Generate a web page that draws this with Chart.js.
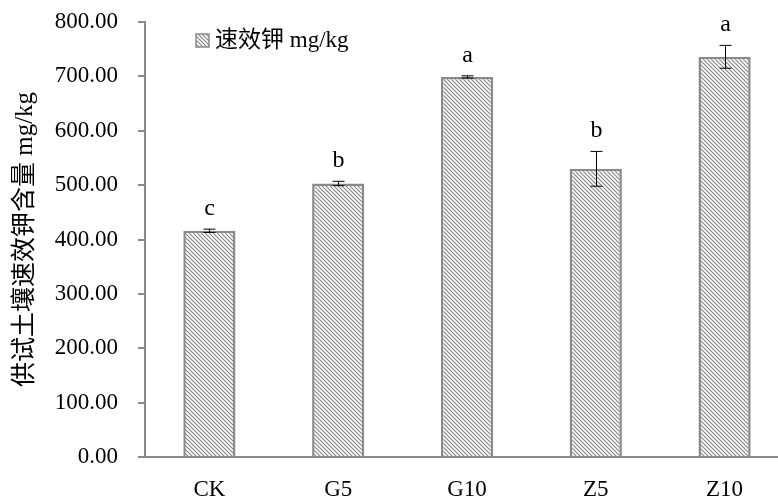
<!DOCTYPE html>
<html>
<head>
<meta charset="utf-8">
<script src="https://cdn.jsdelivr.net/npm/chart.js@4"></script>
<style>
  body { margin: 0; overflow: hidden; background: #fff; }
</style>
</head>
<body>
<canvas id="kChart" width="790" height="497"></canvas>
<script>
// Chart data
var categories = ['CK', 'G5', 'G10', 'Z5', 'Z10'];
var potassium = [416, 503, 699, 530, 736];
var errors = [3, 4, 2, 32, 21];
var letters = ['c', 'b', 'a', 'b', 'a'];
var yTicks = [0, 100, 200, 300, 400, 500, 600, 700, 800];

var serif = "'Liberation Serif', 'Times New Roman', 'Noto Sans CJK SC', serif";

// diagonal hatch fill
function makeHatch() {
    var size = 4;
    var c = document.createElement('canvas');
    c.width = size; c.height = size;
    var g = c.getContext('2d');
    g.fillStyle = '#fff';
    g.fillRect(0, 0, size, size);
    g.strokeStyle = '#858585';
    g.lineWidth = 1.1;
    g.beginPath();
    g.moveTo(-1, -1); g.lineTo(size + 1, size + 1);
    g.moveTo(-1, size - 1); g.lineTo(1, size + 1);
    g.moveTo(size - 1, -1); g.lineTo(size + 1, 1);
    g.stroke();
    return g.createPattern(c, 'repeat');
}

var hatch = makeHatch();

// error bars, letters and legend
var extras = {
    id: 'extras',
    afterDatasetsDraw: function(chart) {
        var ctx = chart.ctx;
        var x = chart.scales.x, y = chart.scales.y;
        ctx.save();
        ctx.strokeStyle = '#000';
        ctx.lineWidth = 1;
        ctx.fillStyle = '#000';
        ctx.font = '24px ' + serif;
        ctx.textAlign = 'center';
        ctx.textBaseline = 'alphabetic';
        potassium.forEach(function(v, i) {
            var cx = Math.round(x.getPixelForValue(i)) + 0.5;
            var top = y.getPixelForValue(v + errors[i]);
            var bot = y.getPixelForValue(v - errors[i]);
            ctx.beginPath();
            ctx.moveTo(cx, top); ctx.lineTo(cx, bot);
            ctx.moveTo(cx - 6, top); ctx.lineTo(cx + 6, top);
            ctx.moveTo(cx - 6, bot); ctx.lineTo(cx + 6, bot);
            ctx.stroke();
            ctx.fillText(letters[i], cx, top - 14);
        });
        // legend
        var lx = 196, ly = 34;
        ctx.fillStyle = hatch;
        ctx.fillRect(lx, ly, 13, 13);
        ctx.strokeStyle = '#8a8a8a';
        ctx.lineWidth = 1.5;
        ctx.strokeRect(lx, ly, 13, 13);
        ctx.fillStyle = '#000';
        ctx.textAlign = 'left';
        ctx.textBaseline = 'middle';
        ctx.font = '23px ' + serif;
        ctx.fillText('速效钾 mg/kg', lx + 19, ly + 7);
        ctx.restore();
    }
};

var ctx = document.getElementById('kChart').getContext('2d');
var kChart = new Chart(ctx, {
    type: 'bar',
    data: {
        labels: categories,
        datasets: [{
            label: '速效钾 mg/kg',
            data: potassium,
            backgroundColor: hatch,
            borderColor: '#8a8a8a',
            borderWidth: 2.5,
            categoryPercentage: 1,
            barPercentage: 0.405
        }]
    },
    options: {
        responsive: false,
        animation: false,
        layout: { padding: { top: 22, right: 1, left: 0, bottom: 0 } },
        plugins: {
            legend: { display: false },
            tooltip: { enabled: false }
        },
        scales: {
            x: {
                grid: { display: false, drawTicks: false },
                border: { display: true, color: '#8a8a8a', width: 2 },
                ticks: {
                    color: '#000',
                    padding: 19,
                    font: { family: serif, size: 23 }
                },
                afterFit: function(scale) { scale.height = 40; }
            },
            y: {
                min: 0,
                max: 800,
                afterBuildTicks: function(scale) {
                    scale.ticks = yTicks.map(function(v) { return { value: v }; });
                },
                grid: {
                    drawOnChartArea: false,
                    drawTicks: true,
                    tickLength: 7,
                    color: '#8a8a8a',
                    lineWidth: 2
                },
                border: { display: true, color: '#8a8a8a', width: 2 },
                ticks: {
                    color: '#000',
                    padding: 20,
                    font: { family: serif, size: 23 },
                    callback: function(v) { return v.toFixed(2); }
                },
                title: {
                    display: true,
                    text: '供试土壤速效钾含量 mg/kg',
                    color: '#000',
                    font: { family: serif, size: 25 },
                    padding: { top: 10, bottom: 0 }
                },
                afterFit: function(scale) {
                    scale.width = 145;
                    scale.paddingTop = 0;
                    scale.paddingBottom = 0;
                }
            }
        }
    },
    plugins: [extras]
});
</script>
</body>
</html>
